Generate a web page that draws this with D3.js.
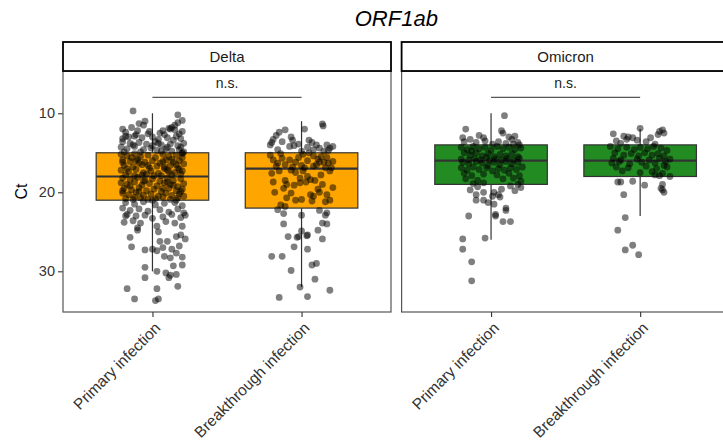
<!DOCTYPE html>
<html>
<head>
<meta charset="utf-8">
<script src="https://cdn.jsdelivr.net/npm/d3@7"></script>
<style>
  body { margin: 0; background: #fff; }
  text { font-family: "Liberation Sans", Arial, sans-serif; }
</style>
</head>
<body>
<div id="chart"></div>
<script>
// categories and facets
var facets = ["Delta", "Omicron"];
var groups = ["Primary infection", "Breakthrough infection"];
var fills = ["#FFA500", "#228B22"];
var yTicks = [10, 20, 30];
var title = "ORF1ab";
var yLabel = "Ct";
var signifLabels = ["n.s.", "n.s."];
var signifY = 8;

// box stats: [lower whisker, q1, median, q3, upper whisker]
var deltaBox = [[10, 15, 18, 21, 30], [11, 15, 17, 22, 32]];
var omicronBox = [[10, 14, 16, 19, 26], [12, 14, 16, 18, 23]];

// points: [jitter (category units), Ct]
var deltaPrimary = [
  [-0.13,9.7],[0.17,10.2],[0.2,10.9],[-0.05,11.0],[-0.09,11.3],[-0.06,11.5],[0.17,11.2],[0.13,11.8],[0.12,12.0],[0.15,12.1],
  [0.11,11.9],[0.2,12.3],[-0.2,12.0],[-0.18,12.4],[-0.1,12.2],[-0.02,12.3],[0.05,12.5],[0.08,12.7],[0.18,12.6],[-0.16,13.0],
  [-0.12,12.9],[-0.07,13.1],[0.0,13.0],[0.04,13.3],[0.1,13.1],[0.14,13.4],[0.19,13.2],[-0.2,13.6],[-0.15,13.8],[-0.09,13.7],
  [-0.04,13.9],[0.02,13.6],[0.06,14.0],[0.12,13.9],[0.17,14.1],[0.21,13.8],[-0.21,14.3],[-0.17,14.5],[-0.12,14.2],[-0.06,14.6],
  [-0.01,14.4],[0.03,14.7],[0.09,14.5],[0.13,14.8],[0.18,14.6],[0.21,14.9],[-0.19,14.9],[-0.08,14.9],[0.06,14.8],[-0.14,11.8],
  [-0.03,12.6],[0.16,12.9],[-0.18,12.9],[0.1,14.3],[-0.13,14.0],[0.2,15.0],[0.0,14.1],[0.15,11.5],[-0.11,12.7],[0.07,12.2],
  [0.19,14.3],[-0.2,13.2],[0.04,13.8],
  [-0.21,15.2],[-0.17,15.4],[-0.12,15.1],[-0.08,15.5],[-0.03,15.3],[0.02,15.6],[0.07,15.2],[0.11,15.5],[0.16,15.3],[0.2,15.6],
  [-0.2,15.9],[-0.15,16.1],[-0.1,15.8],[-0.05,16.2],[0.0,16.0],[0.05,16.3],[0.09,15.9],[0.14,16.2],[0.18,16.0],[0.21,16.4],
  [-0.19,16.6],[-0.13,16.8],[-0.07,16.5],[-0.02,16.9],[0.03,16.7],[0.08,17.0],[0.12,16.6],[0.17,16.9],[-0.21,17.2],[-0.16,17.4],
  [-0.11,17.1],[-0.06,17.5],[-0.01,17.3],[0.04,17.6],[0.1,17.2],[0.15,17.5],[0.2,17.3],[-0.18,17.8],[-0.12,17.9],[-0.04,17.7],
  [0.06,17.9],[0.13,17.8],[0.19,17.7],[-0.09,16.3],[0.07,16.1],[-0.14,15.6],[0.13,15.8],[-0.17,17.0],[0.01,17.9],[0.16,16.5],
  [-0.03,16.6],[0.11,17.4],[-0.2,16.2],[0.2,15.1],[-0.07,17.8],[0.08,16.8],[-0.11,16.0],[0.18,17.1],
  [-0.2,18.2],[-0.15,18.4],[-0.1,18.1],[-0.05,18.5],[0.0,18.3],[0.05,18.6],[0.1,18.2],[0.14,18.5],[0.19,18.3],[-0.21,18.8],
  [-0.17,19.0],[-0.12,18.7],[-0.07,19.1],[-0.02,18.9],[0.03,19.2],[0.08,18.8],[0.12,19.0],[0.17,19.3],[0.21,18.9],[-0.19,19.5],
  [-0.14,19.7],[-0.09,19.4],[-0.04,19.8],[0.01,19.6],[0.06,19.9],[0.11,19.5],[0.16,19.8],[0.2,19.6],[-0.2,20.1],[-0.16,20.3],
  [-0.11,20.0],[-0.06,20.4],[-0.01,20.2],[0.04,20.5],[0.09,20.1],[0.13,20.4],[0.18,20.2],[-0.18,20.8],[-0.13,20.9],[-0.08,20.7],
  [-0.03,20.9],[0.02,20.8],[0.07,20.6],[0.12,20.9],[0.17,20.7],[0.21,20.5],[-0.15,19.2],[0.14,19.1],[-0.06,18.6],[0.07,19.5],
  [-0.12,20.6],[0.19,19.9],[0.0,21.0],[-0.2,19.8],[0.1,18.7],[-0.09,19.9],[0.16,21.0],
  [-0.18,21.3],[-0.12,21.5],[-0.06,21.2],[0.02,21.6],[0.08,21.4],[0.15,21.3],[0.2,21.7],[-0.2,22.0],[-0.15,22.3],[-0.09,22.1],
  [-0.03,22.4],[0.05,22.2],[0.11,22.5],[0.17,22.1],[0.21,22.6],[-0.17,22.8],[-0.11,23.0],[-0.05,22.9],[0.0,23.3],[0.07,23.1],
  [0.13,22.8],[0.19,23.2],[-0.19,23.8],[-0.13,23.6],[-0.08,23.9],[0.09,23.7],[0.15,23.9],[0.22,22.9],[-0.1,24.5],[0.03,24.3],
  [0.2,24.3],
  [-0.1,24.8],[0.04,25.0],[-0.15,25.7],[0.16,25.6],[0.19,25.4],[0.22,25.9],[-0.14,26.9],[0.05,26.2],[0.1,26.2],[0.07,27.0],
  [-0.05,27.3],[0.0,27.2],[0.03,27.4],[0.13,27.2],[0.16,27.7],[0.18,26.8],[0.08,28.1],[0.12,28.3],[0.2,28.2],[0.2,29.2],
  [-0.05,29.5],[0.03,30.0],[0.09,30.2],[0.12,30.5],[0.11,30.8],[0.16,30.4],[-0.05,30.8],[0.17,31.9],[-0.17,32.2],[0.03,32.2],
  [-0.12,33.5],[0.02,33.7],[0.04,33.5],[-0.18,23.0],[0.14,29.3]
];
var deltaBreakthrough = [
  [0.14,11.35],[0.145,11.6],[0.02,12.0],[-0.11,12.1],[-0.15,12.4],[-0.17,12.8],[-0.19,13.3],[-0.21,14.0],[-0.07,13.0],[-0.06,13.4],
  [-0.05,14.1],[-0.08,14.2],[0.05,13.4],[0.04,14.3],[0.1,14.0],[0.17,14.0],[0.19,14.4],[0.15,14.8],[0.18,14.7],[-0.2,13.7],
  [-0.13,13.6],[-0.02,13.9],[0.08,14.6],[0.12,14.4],[-0.16,14.6],[0.21,14.2],[0.0,14.8],[0.07,13.7],
  [-0.19,15.9],[-0.13,15.7],[-0.08,15.9],[0.01,15.2],[0.05,15.0],[0.08,15.4],[0.11,15.8],[0.12,16.2],[0.15,16.2],[0.18,16.3],
  [0.21,16.1],[0.16,16.9],[0.2,16.9],[0.19,17.3],[-0.21,15.3],[-0.16,16.3],[-0.11,16.5],[-0.04,16.2],[0.0,16.6],[0.04,16.0],
  [0.08,16.7],[0.13,15.5],[-0.02,15.6],[-0.06,16.8],[0.17,15.6],[0.02,16.9],[-0.17,16.7],[0.1,16.5],[-0.14,15.1],
  [-0.15,17.3],[-0.07,17.2],[-0.04,17.5],[0.01,17.3],[-0.01,18.2],[0.04,18.0],[0.09,18.5],[0.14,19.0],[-0.19,18.7],[-0.11,18.5],
  [-0.1,19.0],[-0.12,19.5],[-0.05,19.1],[-0.01,18.8],[0.03,18.7],[0.06,18.4],[0.11,19.6],[0.12,20.0],[0.06,20.3],[0.08,20.5],
  [-0.1,20.7],[-0.04,21.0],[0.0,20.9],[0.07,21.1],[0.16,21.2],[0.19,21.0],[-0.11,21.8],[-0.14,21.6],[0.17,20.3],[-0.18,20.0],
  [0.21,19.4],[-0.07,20.1],[0.13,17.8],[-0.2,17.6],
  [-0.12,22.7],[0.0,22.9],[0.17,22.6],[0.16,22.9],[-0.12,24.0],[0.14,23.9],[0.17,24.0],[0.11,24.8],[-0.09,25.6],[-0.02,25.6],
  [-0.03,25.7],[0.04,25.4],[0.035,25.5],[0.0,24.9],[0.14,25.9],[-0.05,26.9],[0.04,27.2],[-0.2,28.1],[-0.13,28.1],[0.07,29.2],
  [0.1,29.0],[-0.07,29.9],[0.09,31.0],[-0.01,32.0],[0.19,32.4],[-0.15,33.3],[0.04,33.2],[0.12,22.3],[-0.16,22.2]
];
var omicronPrimary = [
  [0.09,10.3],[-0.17,12.0],[0.07,12.2],[0.08,12.5],[-0.19,13.1],[-0.14,13.3],[-0.05,13.1],[0.12,13.0],[0.16,12.9],[0.14,13.3],
  [-0.18,13.6],[-0.1,13.7],[0.01,13.9],[0.05,13.6],[0.1,13.8],[0.18,13.7],[-0.04,13.5],[0.19,14.0],[-0.08,12.8],[0.15,13.9],
  [-0.2,14.3],[-0.16,14.6],[-0.12,14.2],[-0.08,14.5],[-0.04,14.3],[0.0,14.7],[0.04,14.2],[0.08,14.5],[0.12,14.3],[0.16,14.6],
  [0.2,14.4],[-0.18,15.0],[-0.14,15.3],[-0.1,15.0],[-0.06,15.4],[-0.02,15.1],[0.02,15.5],[0.06,15.2],[0.1,15.4],[0.14,15.1],
  [0.18,15.5],[-0.2,15.8],[-0.15,15.9],[-0.11,15.7],[-0.07,15.9],[-0.03,15.6],[0.03,15.8],[0.07,15.9],[0.11,15.7],[0.15,15.9],
  [0.19,15.7],[-0.01,15.95],[-0.13,14.8],
  [-0.19,16.2],[-0.15,16.4],[-0.1,16.1],[-0.06,16.3],[-0.02,16.6],[0.02,16.2],[0.06,16.5],[0.1,16.1],[0.14,16.4],[0.18,16.2],
  [-0.2,16.9],[-0.16,17.2],[-0.12,16.8],[-0.08,17.1],[-0.03,16.9],[0.01,17.3],[0.05,17.0],[0.09,17.2],[0.13,16.9],[0.17,17.1],
  [0.21,16.8],[-0.18,17.6],[-0.13,17.9],[-0.05,17.7],[0.04,17.8],[0.12,17.6],[0.19,17.9],[-0.17,18.3],[-0.09,18.5],[0.15,18.2],
  [0.2,18.6],[-0.05,18.8],[0.08,18.3],
  [-0.12,18.9],[-0.09,19.3],[-0.14,19.7],[-0.1,20.3],[-0.05,20.0],[0.02,20.0],[0.05,20.3],[0.06,20.6],[0.01,20.5],[-0.1,21.0],
  [-0.05,21.0],[0.02,21.5],[-0.15,23.0],[0.03,22.8],[0.1,22.3],[0.08,23.7],[0.13,23.7],[0.03,23.0],[0.1,22.0],[-0.19,25.9],
  [-0.04,25.8],[-0.19,27.2],[-0.13,28.8],[-0.13,31.2],[0.13,19.2],[0.18,19.0],[0.16,19.8],[0.2,19.4],[-0.02,21.3],[0.07,19.6]
];
var omicronBreakthrough = [
  [0.0,11.9],[0.13,12.3],[0.16,12.5],[0.12,12.7],[0.15,12.1],[-0.18,12.6],[-0.11,12.9],[-0.08,13.0],[-0.05,13.1],[-0.02,13.4],
  [0.07,13.1],[-0.16,13.5],[-0.13,13.8],[0.04,13.6],[0.1,13.9],[-0.09,13.3],
  [-0.2,14.2],[-0.15,14.5],[-0.09,14.3],[-0.04,14.6],[0.0,14.3],[0.05,14.5],[0.09,14.2],[0.14,14.4],[0.18,14.7],[-0.17,15.0],
  [-0.11,15.3],[-0.06,15.1],[-0.01,15.4],[0.03,15.0],[0.08,15.3],[0.12,15.1],[0.16,15.4],[-0.18,15.7],[-0.13,15.9],[-0.02,15.8],
  [0.06,15.9],[0.13,15.7],[0.2,15.8],[-0.19,16.3],[-0.14,16.1],[-0.07,16.4],[0.01,16.2],[0.1,16.3],[0.17,16.1],[-0.16,16.8],
  [-0.08,16.9],[0.04,16.7],[0.11,17.0],[0.18,16.8],[-0.12,17.3],[0.0,17.5],[0.08,17.4],[0.15,17.6],[0.1,17.8],[0.13,17.9],
  [0.16,16.6],
  [-0.15,18.7],[-0.13,18.7],[-0.05,18.6],[0.03,19.1],[0.15,19.0],[0.15,19.7],[0.16,20.0],[0.14,19.5],[-0.11,20.3],[-0.1,23.2],
  [-0.15,24.8],[-0.1,27.3],[-0.05,26.7],[-0.01,27.9],[0.2,18.0]
];

var boxes = [deltaBox, omicronBox];
var points = [[deltaPrimary, deltaBreakthrough], [omicronPrimary, omicronBreakthrough]];

var W = 723, H = 443;
var panelTop = 71, panelBottom = 312, stripTop = 42;
var panelX = [[63, 391], [401.6, 729.6]];
var ink = "#333333";

var svg = d3.select("#chart").append("svg")
  .attr("width", W)
  .attr("height", H);

var y = d3.scaleLinear()
  .domain([4.65, 35.15])
  .range([panelTop, panelBottom]);

// title
svg.append("text")
  .attr("x", (panelX[0][0] + panelX[1][1]) / 2)
  .attr("y", 26)
  .attr("text-anchor", "middle")
  .style("font-size", "22px")
  .style("font-style", "italic")
  .text(title);

// y axis title
svg.append("text")
  .attr("transform", "translate(27," + ((panelTop + panelBottom) / 2) + ") rotate(-90)")
  .attr("text-anchor", "middle")
  .style("font-size", "16px")
  .text(yLabel);

// y axis
var yAxis = svg.append("g")
  .attr("transform", "translate(" + panelX[0][0] + ",0)")
  .call(d3.axisLeft(y).tickValues(yTicks).tickSize(5).tickPadding(3));
yAxis.select(".domain").remove();
yAxis.selectAll(".tick line").attr("stroke", ink).attr("stroke-width", 1.1);
yAxis.selectAll(".tick text").attr("fill", "#333").style("font-size", "14.5px")
  .style("font-family", "Liberation Sans, Arial, sans-serif");

facets.forEach(function(facet, fi) {
  var x0 = panelX[fi][0], x1 = panelX[fi][1];
  var x = d3.scalePoint().domain(groups).range([x0, x1]).padding(0.6);
  var step = x.step();
  var bw = step * 0.755;
  var g = svg.append("g");

  // boxes
  boxes[fi].forEach(function(b, gi) {
    var cx = x(groups[gi]);
    g.append("line")
      .attr("x1", cx).attr("x2", cx)
      .attr("y1", y(b[0])).attr("y2", y(b[4]))
      .attr("stroke", ink).attr("stroke-width", 1.2);
    g.append("rect")
      .attr("x", cx - bw / 2).attr("width", bw)
      .attr("y", y(b[1])).attr("height", y(b[3]) - y(b[1]))
      .attr("fill", fills[fi])
      .attr("stroke", ink).attr("stroke-width", 1.2);
    g.append("line")
      .attr("x1", cx - bw / 2).attr("x2", cx + bw / 2)
      .attr("y1", y(b[2])).attr("y2", y(b[2]))
      .attr("stroke", ink).attr("stroke-width", 2.2);
  });

  // jittered points
  points[fi].forEach(function(pts, gi) {
    g.append("g")
      .selectAll("circle")
      .data(pts)
      .enter()
      .append("circle")
        .attr("cx", function(d) { return x(groups[gi]) + d[0] * step; })
        .attr("cy", function(d) { return y(d[1]); })
        .attr("r", 3.4)
        .style("fill", "rgba(0,0,0,0.5)");
  });

  // significance bracket
  g.append("line")
    .attr("x1", x(groups[0])).attr("x2", x(groups[1]))
    .attr("y1", y(signifY)).attr("y2", y(signifY))
    .attr("stroke", "#555").attr("stroke-width", 1.3);
  g.append("text")
    .attr("x", (x(groups[0]) + x(groups[1])) / 2)
    .attr("y", y(signifY) - 9)
    .attr("text-anchor", "middle")
    .style("font-size", "14px")
    .attr("fill", "#222")
    .text(signifLabels[fi]);

  // panel border
  g.append("rect")
    .attr("x", x0).attr("y", panelTop)
    .attr("width", x1 - x0).attr("height", panelBottom - panelTop)
    .attr("fill", "none").attr("stroke", "#555").attr("stroke-width", 1.2);

  // strip
  g.append("rect")
    .attr("x", x0).attr("y", stripTop)
    .attr("width", x1 - x0).attr("height", panelTop - stripTop)
    .attr("fill", "#fff").attr("stroke", "#000").attr("stroke-width", 1.8);
  g.append("text")
    .attr("x", (x0 + x1) / 2)
    .attr("y", (stripTop + panelTop) / 2 + 5.5)
    .attr("text-anchor", "middle")
    .style("font-size", "15px")
    .attr("fill", "#1a1a1a")
    .text(facet);

  // x axis
  var xAxis = g.append("g")
    .attr("transform", "translate(0," + panelBottom + ")")
    .call(d3.axisBottom(x).tickSize(5).tickFormat(""));
  xAxis.select(".domain").remove();
  xAxis.selectAll(".tick line").attr("stroke", ink).attr("stroke-width", 1.1);

  g.selectAll(".xlab")
    .data(groups)
    .enter()
    .append("text")
      .attr("transform", function(d) {
        return "translate(" + (x(d) + 9) + "," + (panelBottom + 17) + ") rotate(-45)";
      })
      .attr("text-anchor", "end")
      .style("font-size", "15.5px")
      .attr("fill", "#333")
      .text(function(d) { return d; });
});
</script>
</body>
</html>
